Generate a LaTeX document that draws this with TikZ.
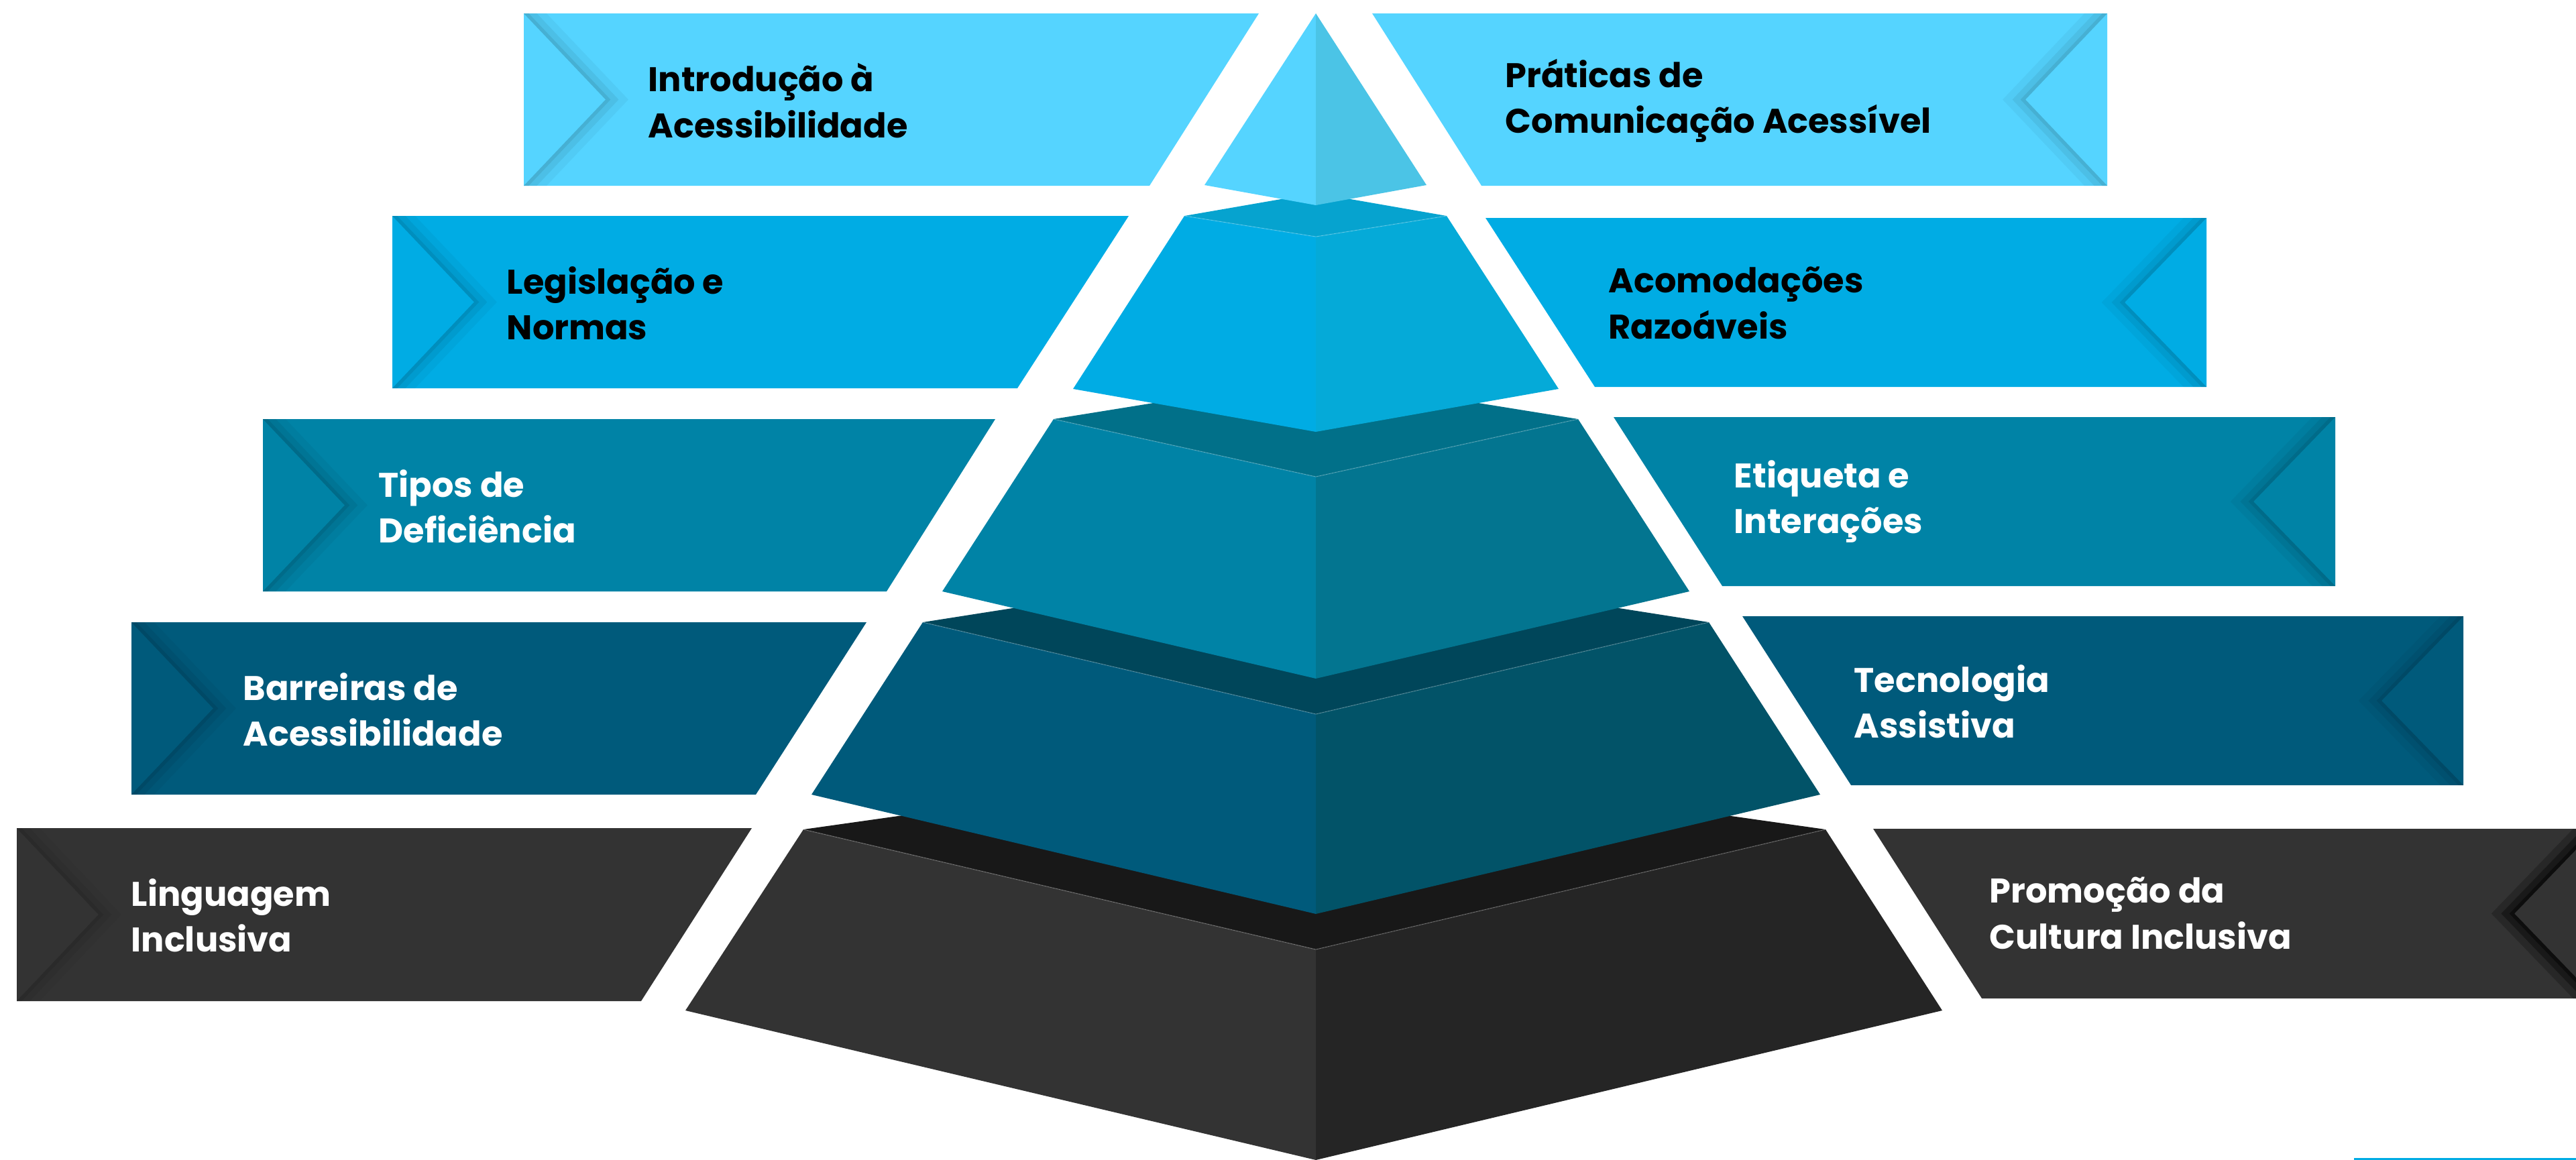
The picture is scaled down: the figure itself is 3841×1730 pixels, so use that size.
\documentclass[tikz,border=0pt]{standalone}
\usepackage{fontspec}
\setmainfont{Poppins}
\definecolor{skyL}{HTML}{55D4FF}
\definecolor{skyR}{HTML}{4BC4E6}
\definecolor{blueT}{HTML}{06A3CF}
\definecolor{blueL}{HTML}{00ACE4}
\definecolor{blueR}{HTML}{05AAD8}
\definecolor{tealT}{HTML}{017089}
\definecolor{tealL}{HTML}{0083A6}
\definecolor{tealR}{HTML}{037590}
\definecolor{deepT}{HTML}{00465A}
\definecolor{deepL}{HTML}{005A7B}
\definecolor{deepR}{HTML}{025368}
\definecolor{coalT}{HTML}{181818}
\definecolor{coalL}{HTML}{333333}
\definecolor{coalR}{HTML}{252525}
\tikzset{
  face/.style={draw=none},
  seam/.style={white, opacity=0.18, line width=0.4pt},
  topic/.style={
    anchor=west, align=left, inner sep=0pt,
    font=\bfseries\fontsize{14.5}{19.4}\selectfont
  },
  foldshade/.style={black, line join=miter, line cap=butt}
}
\begin{document}
\begin{tikzpicture}[x=0.01cm, y=-0.01cm]
    \useasboundingbox (0,0) rectangle (3841,1730);

    % Banners, left side
    \fill[skyL] (781,20) -- (1877,20) -- (1714,277) -- (781,277) -- cycle;
    \fill[blueL] (585,322) -- (1683,322) -- (1517,579) -- (585,579) -- cycle;
    \fill[tealL] (392,625) -- (1484,625) -- (1322,882) -- (392,882) -- cycle;
    \fill[deepL] (196,928) -- (1292,928) -- (1127,1185) -- (196,1185) -- cycle;
    \fill[coalL] (25,1235) -- (1121,1235) -- (956,1493) -- (25,1493) -- cycle;

    % Banners, right side
    \fill[skyL] (2046,20) -- (3142,20) -- (3142,277) -- (2209,277) -- cycle;
    \fill[blueL] (2215,325) -- (3290,325) -- (3290,577) -- (2378,577) -- cycle;
    \fill[tealL] (2406,622) -- (3482,622) -- (3482,874) -- (2568,874) -- cycle;
    \fill[deepL] (2598,919) -- (3673,919) -- (3673,1171) -- (2760,1171) -- cycle;
    \fill[coalL] (2793,1236) -- (3871,1236) -- (3871,1489) -- (2955,1489) -- cycle;

    % Folded ends, left side
    \foreach \xl/\yt/\yb in {781/20/277, 585/322/579, 392/625/882, 196/928/1185, 25/1235/1493}{
      \begin{scope}
        \clip (\xl,\yt) -- ({\xl+122},{(\yt+\yb)/2}) -- (\xl,\yb) -- ({\xl+300},\yb) -- ({\xl+300},\yt) -- cycle;
        \draw[foldshade, opacity=0.04, line width=14pt] (\xl,\yt) -- ({\xl+122},{(\yt+\yb)/2}) -- (\xl,\yb);
        \draw[foldshade, opacity=0.06, line width=8pt] (\xl,\yt) -- ({\xl+122},{(\yt+\yb)/2}) -- (\xl,\yb);
        \draw[foldshade, opacity=0.08, line width=3pt] (\xl,\yt) -- ({\xl+122},{(\yt+\yb)/2}) -- (\xl,\yb);
      \end{scope}
    }

    % Folded ends, right side
    \foreach \xr/\yt/\yb/\op in {3142/20/277/0.08, 3290/325/577/0.08, 3482/622/874/0.08, 3673/919/1171/0.08, 3871/1236/1489/0.45}{
      \begin{scope}
        \clip (\xr,\yt) -- ({\xr-122},{(\yt+\yb)/2}) -- (\xr,\yb) -- ({\xr-300},\yb) -- ({\xr-300},\yt) -- cycle;
        \draw[foldshade, opacity=0.5*\op, line width=14pt] (\xr,\yt) -- ({\xr-122},{(\yt+\yb)/2}) -- (\xr,\yb);
        \draw[foldshade, opacity=0.75*\op, line width=8pt] (\xr,\yt) -- ({\xr-122},{(\yt+\yb)/2}) -- (\xr,\yb);
        \draw[foldshade, opacity=\op, line width=3pt] (\xr,\yt) -- ({\xr-122},{(\yt+\yb)/2}) -- (\xr,\yb);
      \end{scope}
    }

    % Pyramid, bottom tier
    \fill[coalT] (1198,1237) -- (1962,1129) -- (2722,1237) -- (1962,1416) -- cycle;
    \fill[coalL] (1198,1237) -- (1962,1416) -- (1962,1730) -- (1022,1507) -- cycle;
    \fill[coalR] (1962,1416) -- (2722,1237) -- (2896,1507) -- (1962,1730) -- cycle;
    \draw[seam] (1198,1237) -- (1962,1416) -- (2722,1237);

    % Tier 4
    \fill[deepT] (1376,928) -- (1962,836) -- (2548,928) -- (1962,1065) -- cycle;
    \fill[deepL] (1376,928) -- (1962,1065) -- (1962,1363) -- (1210,1185) -- cycle;
    \fill[deepR] (1962,1065) -- (2548,928) -- (2714,1185) -- (1962,1363) -- cycle;
    \draw[seam] (1376,928) -- (1962,1065) -- (2548,928);

    % Tier 3
    \fill[tealT] (1571,625) -- (1962,562) -- (2353,625) -- (1962,711) -- cycle;
    \fill[tealL] (1571,625) -- (1962,711) -- (1962,1012) -- (1405,882) -- cycle;
    \fill[tealR] (1962,711) -- (2353,625) -- (2519,882) -- (1962,1012) -- cycle;
    \draw[seam] (1571,625) -- (1962,711) -- (2353,625);

    % Tier 2
    \fill[blueT] (1766,322) -- (1962,288) -- (2157,322) -- (1962,353) -- cycle;
    \fill[blueL] (1766,322) -- (1962,353) -- (1962,644) -- (1600,580) -- cycle;
    \fill[blueR] (1962,353) -- (2157,322) -- (2324,580) -- (1962,644) -- cycle;
    \draw[seam] (1766,322) -- (1962,353) -- (2157,322);

    % Top tier
    \fill[skyL] (1962,20) -- (1796,276) -- (1962,306) -- cycle;
    \fill[skyR] (1962,20) -- (2127,276) -- (1962,306) -- cycle;

    % Strip at the bottom edge
    \fill[blueL] (3510,1727) -- (3841,1727) -- (3841,1730) -- (3510,1730) -- cycle;

    % Labels, left side
    \node[topic, black] (intro) at (966,150) {Introdução à\\Acessibilidade};
    \node[topic, black] (legis) at (755,452) {Legislação e\\Normas};
    \node[topic, white] (tipos) at (564,755) {Tipos de\\Deficiência};
    \node[topic, white] (barreiras) at (362,1058) {Barreiras de\\Acessibilidade};
    \node[topic, white] (linguagem) at (195,1365) {Linguagem\\Inclusiva};

    % Labels, right side
    \node[topic, black] (praticas) at (2244,150) {Práticas de\\Comunicação Acessível};
    \node[topic, black] (acomod) at (2398,452) {Acomodações\\Razoáveis};
    \node[topic, white] (etiqueta) at (2585,748) {Etiqueta e\\Interações};
    \node[topic, white] (tecno) at (2764,1046) {Tecnologia\\Assistiva};
    \node[topic, white] (promocao) at (2966,1362) {Promoção da\\Cultura Inclusiva};

\end{tikzpicture}
\end{document}
